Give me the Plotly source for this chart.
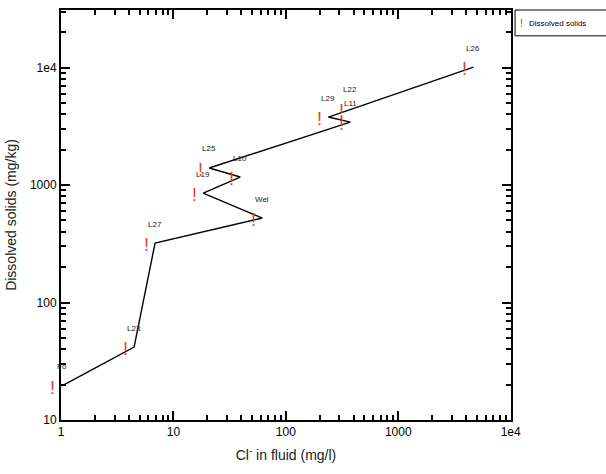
import math
import plotly.graph_objects as go

# Sample points (in order of connection)
labels = ["Fo", "L23", "L27", "Wel", "L19", "L10", "L25", "L11", "L29", "L22", "L26"]
chloride = [1.02, 4.47, 6.87, 61.6, 18.4, 39.3, 20.8, 374, 239, 374, 4670]
dissolved = [19.5, 41.8, 321, 524, 855, 1170, 1397, 3436, 3792, 4450, 10090]

# line path (order of samples along the curve)
line_order = ["Fo", "L23", "L27", "Wel", "L19", "L10", "L25", "L11", "L29", "L26"]

x_tickvals = [1, 10, 100, 1000, 10000]
x_ticktext = ["1", "10", "100", "1000", "1e4"]
y_tickvals = [10, 100, 1000, 10000]
y_ticktext = ["10", "100", "1000", "1e4"]

series_name = "Dissolved solids"
marker_color = "#d8402a"

idx = {k: i for i, k in enumerate(labels)}
lx = [chloride[idx[k]] for k in line_order]
ly = [dissolved[idx[k]] for k in line_order]

fig = go.Figure()
fig.add_trace(go.Scatter(x=lx, y=ly, mode="lines", line=dict(color="black", width=1.4),
                         showlegend=False, hoverinfo="skip"))

for lab, xv, yv in zip(labels, chloride, dissolved):
    lxv, lyv = math.log10(xv), math.log10(yv)
    # "!" symbol
    fig.add_annotation(x=lxv, y=lyv, xref="x", yref="y", text="!", showarrow=False,
                       xshift=-9, yshift=-2,
                       font=dict(family="Liberation Sans", size=18, color=marker_color))
    # sample label
    fig.add_annotation(x=lxv, y=lyv, xref="x", yref="y", text=lab, showarrow=False,
                       yshift=19, font=dict(family="Liberation Sans", size=8, color="#222"))

# legend box
fig.add_shape(type="rect", xref="paper", yref="paper", x0=1.009, x1=1.215, y0=0.937, y1=1.0,
              line=dict(color="black", width=1), fillcolor="white")
fig.add_annotation(xref="paper", yref="paper", x=1.016, y=0.968, xanchor="left", yanchor="middle",
                   text="!", showarrow=False,
                   font=dict(family="Liberation Sans", size=11, color=marker_color))
fig.add_annotation(xref="paper", yref="paper", x=1.036, y=0.968, xanchor="left", yanchor="middle",
                   text=series_name, showarrow=False,
                   font=dict(family="Liberation Sans", size=8, color="black"))

minor_x = [m * 10 ** d for d in range(0, 4) for m in range(2, 10)]
minor_y = [m * 10 ** d for d in range(1, 5) for m in range(2, 10) if m * 10 ** d < 31000]

axis_common = dict(showline=True, linecolor="black", linewidth=2, mirror="ticks",
                   ticks="inside", ticklen=9, tickwidth=1.5, tickcolor="black",
                   showgrid=False, zeroline=False, automargin=False,
                   tickfont=dict(family="Liberation Sans", size=12, color="black"))

fig.update_xaxes(type="log", range=[0, 4.003], tickvals=x_tickvals, ticktext=x_ticktext,
                 minor=dict(tickvals=minor_x, ticks="inside", ticklen=5, tickcolor="black", tickwidth=1.5),
                 title=dict(text="Cl<sup>-</sup> in fluid (mg/l)", standoff=12,
                            font=dict(family="Liberation Sans", size=14, color="#222")),
                 **axis_common)
fig.update_yaxes(type="log", range=[1, 4.49], tickvals=y_tickvals, ticktext=y_ticktext,
                 minor=dict(tickvals=minor_y, ticks="inside", ticklen=5, tickcolor="black", tickwidth=1.5),
                 title=dict(text="Dissolved solids (mg/kg)", standoff=10,
                            font=dict(family="Liberation Sans", size=14, color="#222")),
                 **axis_common)

fig.update_layout(width=606, height=474, margin=dict(l=61, r=95, t=10, b=54),
                  plot_bgcolor="white", paper_bgcolor="white", showlegend=False)

fig.write_html("out.html", config={"displayModeBar": False},
               post_script="document.body.style.margin='0px';")
